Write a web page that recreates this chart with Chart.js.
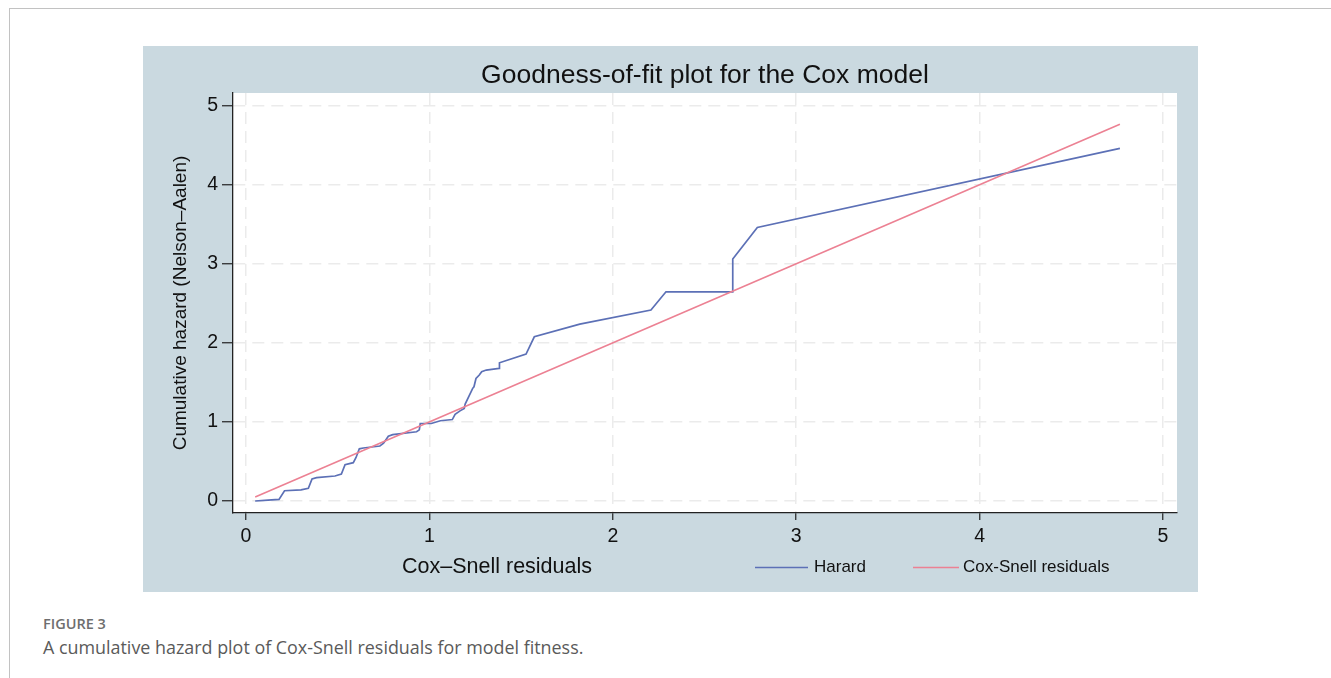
<!DOCTYPE html>
<html>
<head>
<meta charset="utf-8">
<script src="https://cdn.jsdelivr.net/npm/chart.js@4.4.1/dist/chart.umd.min.js"></script>
<style>
  html, body { margin: 0; padding: 0; background: #fff; width: 1331px; height: 678px; overflow: hidden; }
  .card { position: absolute; left: 9px; top: 8px; right: 0; bottom: -4px;
          border-left: 1.5px solid #c2c2c2; border-top: 1.5px solid #c2c2c2; }
  #panel { position: absolute; left: 143px; top: 46px; width: 1055px; height: 546px; background: #cad9e0; }
  #panel canvas { display: block; }
  .fig-label { position: absolute; left: 43px; top: 614px; font-family: "Open Sans", sans-serif;
               font-size: 14.5px; font-weight: 600; color: #6e6e6e; line-height: 20px; }
  .fig-caption { position: absolute; left: 43px; top: 635px; font-family: "Open Sans", sans-serif;
                 font-size: 17.9px; color: #5a5a5a; line-height: 24px; }
</style>
</head>
<body>
<div class="card"></div>
<div id="panel"><canvas id="chart" width="1055" height="546"></canvas></div>
<div class="fig-label">FIGURE 3</div>
<div class="fig-caption">A cumulative hazard plot of Cox-Snell residuals for model fitness.</div>

<script>
// Tick positions on both axes
const xTickValues = [0, 1, 2, 3, 4, 5];
const yTickValues = [0, 1, 2, 3, 4, 5];

// Nelson–Aalen cumulative hazard of the Cox–Snell residuals
const hazardX = [0.05, 0.12, 0.18, 0.21, 0.30, 0.34, 0.36, 0.385, 0.485, 0.52, 0.54, 0.585, 0.60, 0.618,
                 0.64, 0.73, 0.75, 0.776, 0.80, 0.93, 0.945, 0.95, 1.01, 1.06, 1.125, 1.14, 1.167, 1.19,
                 1.195, 1.236, 1.243, 1.254, 1.272, 1.285, 1.31, 1.38, 1.382, 1.527, 1.572, 1.82, 2.208,
                 2.29, 2.654, 2.654, 2.788, 4.765];
const hazardY = [0.00, 0.01, 0.02, 0.13, 0.14, 0.16, 0.28, 0.295, 0.316, 0.34, 0.46, 0.485, 0.55, 0.66,
                 0.67, 0.695, 0.73, 0.82, 0.84, 0.876, 0.90, 0.98, 0.98, 1.015, 1.03, 1.095, 1.14, 1.17,
                 1.225, 1.425, 1.445, 1.55, 1.593, 1.635, 1.656, 1.677, 1.748, 1.858, 2.077, 2.238, 2.415,
                 2.646, 2.646, 3.06, 3.46, 4.46];

// 45-degree reference line (Cox–Snell residuals against themselves)
const refX = [0.05, 4.765];
const refY = [0.05, 4.765];

const seriesNames = ['Harard', 'Cox-Snell residuals'];
const seriesColors = ['#5c70b6', '#ec8193'];

const toPoints = (xs, ys) => xs.map((x, i) => ({ x: x, y: ys[i] }));

// White plot region on the blue-gray panel
const plotBackground = {
  id: 'plotBackground',
  beforeDraw(chart) {
    const { ctx, chartArea: a } = chart;
    ctx.save();
    ctx.fillStyle = '#ffffff';
    ctx.fillRect(a.left, a.top, a.right - a.left, a.bottom - a.top);
    ctx.restore();
  }
};

// x-axis title and the key share one row beneath the axis
const bottomRow = {
  id: 'bottomRow',
  afterDraw(chart) {
    const ctx = chart.ctx;
    const rowY = 521.5;
    ctx.save();
    ctx.fillStyle = '#111';
    ctx.textBaseline = 'middle';
    ctx.font = '21.5px "Liberation Sans", Arial, sans-serif';
    ctx.textAlign = 'center';
    ctx.fillText('Cox\u2013Snell residuals', 354, rowY);

    const keys = [
      { lineFrom: 612, lineTo: 665, textX: 671 },
      { lineFrom: 770, lineTo: 816, textX: 820 }
    ];
    ctx.font = '17px "Liberation Sans", Arial, sans-serif';
    ctx.textAlign = 'left';
    chart.data.datasets.forEach((ds, i) => {
      const k = keys[i];
      ctx.strokeStyle = ds.borderColor;
      ctx.lineWidth = 1.3;
      ctx.beginPath();
      ctx.moveTo(k.lineFrom, rowY);
      ctx.lineTo(k.lineTo, rowY);
      ctx.stroke();
      ctx.fillStyle = '#111';
      ctx.fillText(ds.label, k.textX, rowY);
    });
    ctx.restore();
  }
};

const gridStyle = {
  color: '#ebebeb',
  lineWidth: 1.5,
  tickColor: '#222',
  tickWidth: 1.2,
  tickLength: 11
};

new Chart(document.getElementById('chart'), {
  type: 'scatter',
  data: {
    datasets: [
      {
        label: seriesNames[0],
        data: toPoints(hazardX, hazardY),
        showLine: true,
        borderColor: seriesColors[0],
        borderWidth: 1.7,
        pointRadius: 0,
        tension: 0,
        order: 2
      },
      {
        label: seriesNames[1],
        data: toPoints(refX, refY),
        showLine: true,
        borderColor: seriesColors[1],
        borderWidth: 1.6,
        pointRadius: 0,
        tension: 0,
        order: 1
      }
    ]
  },
  options: {
    responsive: false,
    animation: false,
    devicePixelRatio: 1,
    layout: { padding: { top: 0, left: 0, right: 21, bottom: 0 } },
    plugins: {
      legend: { display: false },
      tooltip: { enabled: false },
      title: {
        display: true,
        text: 'Goodness-of-fit plot for the Cox model',
        fullSize: false,
        color: '#111',
        font: { family: '"Liberation Sans", Arial, sans-serif', size: 26.5, weight: 'normal' },
        padding: { top: 14, bottom: 1.2 }
      }
    },
    scales: {
      x: {
        type: 'linear',
        min: -0.0709,
        max: 5.0763,
        afterBuildTicks: s => { s.ticks = xTickValues.map(v => ({ value: v })); },
        afterFit: s => { s.height = 79; },
        grid: Object.assign({}, gridStyle, { tickLength: 7 }),
        border: { display: true, color: '#222', width: 1.3, dash: [12, 7] },
        ticks: {
          color: '#111',
          padding: 5,
          maxRotation: 0,
          font: { family: '"Liberation Sans", Arial, sans-serif', size: 19.5 }
        }
      },
      y: {
        type: 'linear',
        min: -0.152,
        max: 5.161,
        afterBuildTicks: s => { s.ticks = yTickValues.map(v => ({ value: v })); },
        afterFit: s => { s.width = 90; },
        grid: gridStyle,
        border: { display: true, color: '#222', width: 1.3, dash: [12, 7] },
        ticks: {
          color: '#111',
          padding: 4,
          font: { family: '"Liberation Sans", Arial, sans-serif', size: 19.5 }
        },
        title: {
          display: true,
          text: 'Cumulative hazard (Nelson\u2013Aalen)',
          color: '#111',
          font: { family: '"Liberation Sans", Arial, sans-serif', size: 19 },
          padding: { top: 26, bottom: 0 }
        }
      }
    }
  },
  plugins: [plotBackground, bottomRow]
});
</script>
</body>
</html>
